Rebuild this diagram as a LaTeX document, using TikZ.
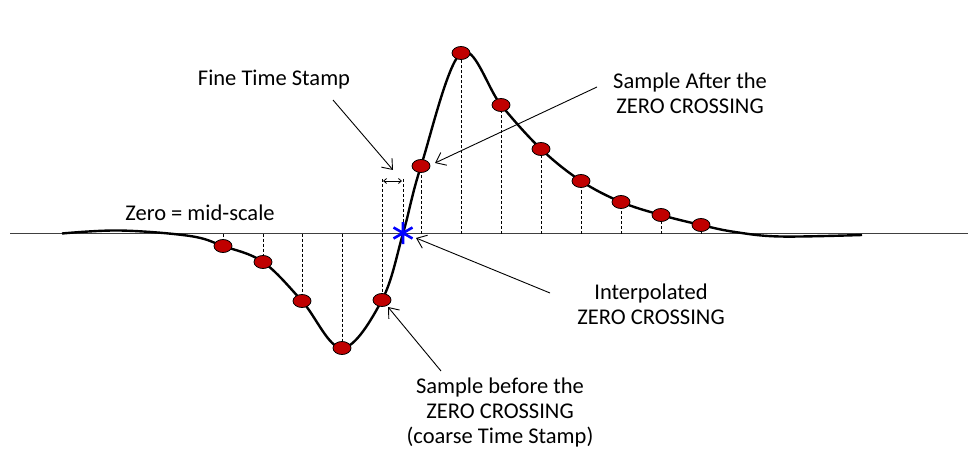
\documentclass[tikz,border=0pt]{standalone}
\usepackage{fontspec}
\setmainfont{Carlito}
\usetikzlibrary{arrows.meta,shapes.geometric}
\definecolor{sampred}{HTML}{C00000}
\definecolor{axisgray}{HTML}{404040}
\begin{document}
\begin{tikzpicture}[x=1pt,y=-1pt,
  sample/.style={ellipse,draw=black,line width=0.8pt,fill=sampred,minimum width=18pt,minimum height=13pt,inner sep=0pt},
  drop/.style={densely dashed,line width=0.8pt,black},
  label/.style={font=\fontsize{22.5}{25}\selectfont,align=center,text=black},
  callout/.style={line width=0.9pt,-{Straight Barb[length=9pt,width=14pt]}},
  signal/.style={line width=2.4pt,black}]
\useasboundingbox (0,0) rectangle (979,449);
% baseline
\draw[axisgray,line width=1.6pt] (10,233.5) -- (968,233.5);
% signal curve
\draw[signal] plot[smooth,tension=0.6] coordinates {(62,233.5) (120,230.5) (190,236) (223,246) (263,262) (302,301) (342,348) (382,300) (403,233.5) (421,166) (461,53) (501,105) (541,149) (581,181) (621,202) (661,215) (701,225) (735,232) (780,236.5) (862,235)};
% sample points
\foreach \n/\x/\y in {1/223/246,2/263/262,3/302/301,4/342/348,5/382/300,6/421/166,7/461/53,8/501/105,9/541/149,10/581/181,11/621/202,12/661/215,13/701/225}{
  \coordinate (b\n) at (\x,233.5);
  \draw[drop] (b\n) -- (\x,\y);
}
% fine time stamp bracket
\coordinate (fl) at (382,179);
\coordinate (fr) at (403,179);
\coordinate (zc) at (403,233.5);
\draw[drop] (fl) -- (382,300);
\draw[drop] (fr) -- (zc);
\draw[line width=0.8pt,{Straight Barb[length=3pt,width=5pt]}-{Straight Barb[length=3pt,width=5pt]}] (383,181) -- (402,181);
% samples drawn on top
\foreach \n/\x/\y in {1/223/246,2/263/262,3/302/301,4/342/348,5/382/300,6/421/166,7/461/53,8/501/105,9/541/149,10/581/181,11/621/202,12/661/215,13/701/225}{
  \node[sample] (s\n) at (\x,\y) {};
}
% interpolated zero crossing asterisk
\node[inner sep=0pt,minimum size=20pt] (star) at (403,233) {};
\draw[blue,line width=2.6pt] (403,222) -- (403,244)
  (393.5,227.5) -- (412.5,238.5) (393.5,238.5) -- (412.5,227.5);
% labels
\node[label] (fine) at (274,80) {Fine Time Stamp};
\node[label] (after) at (690,93) {Sample After the\\ZERO CROSSING};
\node[label] (zero) at (200,213) {Zero = mid-scale};
\node[label] (interp) at (651,304) {Interpolated\\ZERO CROSSING};
\node[label] (before) at (500,412) {Sample before the\\ZERO CROSSING\\(coarse Time Stamp)};
% callouts
\coordinate (fineA) at (333,100); \coordinate (fineB) at (393,170);
\coordinate (afterA) at (597,87); \coordinate (afterB) at (435,163);
\coordinate (intA) at (550,293); \coordinate (intB) at (416,238);
\coordinate (befA) at (441,371); \coordinate (befB) at (388,307);
\draw[callout] (fineA) -- (fineB);
\draw[callout] (afterA) -- (afterB);
\draw[callout] (intA) -- (intB);
\draw[callout] (befA) -- (befB);
\end{tikzpicture}
\end{document}
